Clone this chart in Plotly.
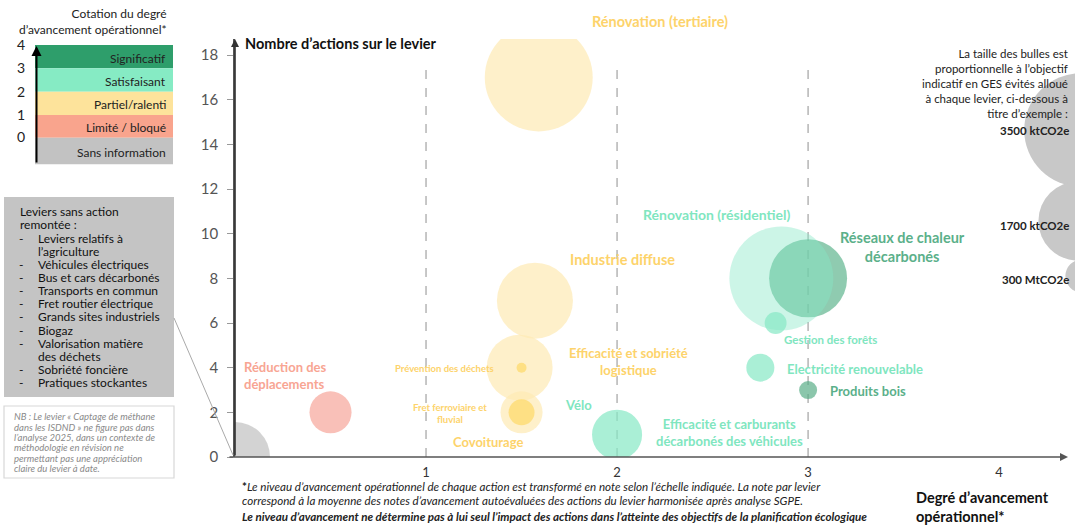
import plotly.graph_objects as go

# ---------------- data ----------------
leviers = [
    "Sans information", "Réduction des déplacements", "Rénovation (tertiaire)",
    "Industrie diffuse", "Efficacité et sobriété logistique", "Prévention des déchets",
    "Covoiturage", "Fret ferroviaire et fluvial",
    "Efficacité et carburants décarbonés des véhicules",
    "Réseaux de chaleur décarbonés", "Rénovation (résidentiel)", "Gestion des forêts",
    "Electricité renouvelable", "Produits bois",
]
avancement = [0.0, 0.5, 1.59, 1.57, 1.49, 1.5, 1.5, 1.5, 2.0, 3.0, 2.86, 2.83, 2.75, 3.0]
nb_actions = [0, 2, 17, 7, 4, 4, 2, 2, 1, 8, 8, 6, 4, 3]
ges_kt = [1330, 480, 3160, 1570, 1180, 27, 480, 183, 680, 1650, 2930, 130, 213, 88]
bubble_colors = [
    "#c0c0c0", "#f7a59a", "#fdeab4", "#fdeab4", "#fdeab4", "#fdd867", "#fdeab4",
    "#fdd867", "#86e8c5", "#5fb58f", "rgba(134,232,197,0.6)", "#86e8c5", "#86e8c5",
    "#5aae88",
]

legend_values = [3500, 1700, 300]
legend_labels = ["3500 ktCO2e", "1700 ktCO2e", "300 MtCO2e"]

cotation_levels = ["Significatif", "Satisfaisant", "Partiel/ralenti", "Limité / bloqué", "Sans information"]
cotation_colors = ["#2e9e6b", "#86ebc4", "#fde39b", "#f9a48d", "#c2c2c2"]
cotation_numbers = ["4", "3", "2", "1", "0"]

leviers_sans_action = [
    "Leviers relatifs à|l’agriculture", "Véhicules électriques", "Bus et cars décarbonés",
    "Transports en commun", "Fret routier électrique", "Grands sites industriels", "Biogaz",
    "Valorisation matière|des déchets", "Sobriété foncière", "Pratiques stockantes",
]

nb_lines = [
    "NB : Le levier « Captage de méthane", "dans les ISDND » ne figure pas dans",
    "l’analyse 2025, dans un contexte de", "méthodologie en révision ne",
    "permettant pas une appréciation", "claire du levier à date.",
]

x_ticks = [1, 2, 3, 4]
y_ticks = [0, 2, 4, 6, 8, 10, 12, 14, 16, 18]

# ---------------- geometry helpers ----------------
W_FIG, H_FIG = 1075, 526
L, T, PW, PH = 235, 39, 831, 418
X_MAX, Y_MAX = 4.35, 18.72
SIZEREF = 0.5425
FONT = "Lato, 'Open Sans', sans-serif"


def fx(px):
    return (px - L) / PW


def fy(py):
    return (T + PH - py) / PH


def bubble_radius_px(v):
    # same rule plotly uses for sizemode='area'
    return (v / (2 * SIZEREF)) ** 0.5


fig = go.Figure()

# bubbles
fig.add_trace(go.Scatter(
    x=avancement, y=nb_actions, mode="markers", text=leviers,
    marker=dict(size=ges_kt, sizemode="area", sizeref=SIZEREF, color=bubble_colors,
                line=dict(width=0)),
    hoverinfo="text", showlegend=False,
))

shapes = []
annotations = []

# size legend bubbles (right edge, outside plot area)
for v, (cx, cy) in zip(legend_values, [(1081, 130), (1078, 221), (1082, 276)]):
    r = bubble_radius_px(v)
    shapes.append(dict(type="circle", xref="paper", yref="paper",
                       x0=fx(cx - r), x1=fx(cx + r), y0=fy(cy + r), y1=fy(cy - r),
                       fillcolor="#c8c8c8", line=dict(width=0)))

# dashed verticals
for xv in [1, 2, 3]:
    shapes.append(dict(type="line", xref="x", yref="y", x0=xv, x1=xv, y0=0, y1=17.7,
                       line=dict(color="#b5b5b5", width=1.5, dash="dash"), layer="below"))

# axes arrows
annotations.append(dict(xref="x", yref="y", axref="x", ayref="y", x=0, y=Y_MAX, ax=0, ay=0,
                        showarrow=True, arrowhead=2, arrowsize=1, arrowwidth=1.6,
                        arrowcolor="#333", text=""))
annotations.append(dict(xref="paper", yref="paper", axref="pixel", ayref="pixel",
                        x=fx(1068), y=fy(457), ax=-840, ay=0,
                        showarrow=True, arrowhead=2, arrowsize=1, arrowwidth=1.6,
                        arrowcolor="#555", text=""))

# axis titles
annotations.append(dict(xref="paper", yref="paper", x=fx(243), y=fy(43), xanchor="left",
                        yanchor="middle", showarrow=False,
                        text="<b>Nombre d’actions sur le levier</b>",
                        font=dict(family=FONT, size=14.5, color="#111")))
annotations.append(dict(xref="paper", yref="paper", x=fx(914), y=fy(507), xanchor="left",
                        yanchor="middle", showarrow=False, align="left",
                        text="<b>Degré d’avancement<br>opérationnel*</b>",
                        font=dict(family=FONT, size=14.5, color="#111")))

# bubble labels: (text, px, py, color, size, anchor)
YEL, RED, GRN, DGR = "#fdd36b", "#f8a593", "#80e6bf", "#5bb08a"
labels = [
    ("Rénovation (tertiaire)", 660, 21, YEL, 14.5, "center"),
    ("Industrie diffuse", 622, 259, YEL, 14.5, "center"),
    ("Efficacité et sobriété<br>logistique", 628, 361, YEL, 13, "center"),
    ("Prévention des déchets", 444, 368, YEL, 9.5, "center"),
    ("Fret ferroviaire et<br>fluvial", 450, 413, YEL, 9.5, "center"),
    ("Covoiturage", 488, 442, YEL, 13, "center"),
    ("Réduction des<br>déplacements", 242, 375, RED, 13, "left"),
    ("Vélo", 578, 405, GRN, 13, "center"),
    ("Efficacité et carburants<br>décarbonés des véhicules", 729, 432, GRN, 13, "center"),
    ("Rénovation (résidentiel)", 716, 214, GRN, 14, "center"),
    ("Réseaux de chaleur<br>décarbonés", 902, 247, DGR, 14.5, "center"),
    ("Gestion des forêts", 830, 339, GRN, 11.5, "center"),
    ("Electricité renouvelable", 855, 369, GRN, 13, "center"),
    ("Produits bois", 868, 391, DGR, 13, "center"),
]
for txt, px, py, col, sz, anc in labels:
    annotations.append(dict(xref="paper", yref="paper", x=fx(px), y=fy(py), xanchor=anc,
                            yanchor="middle", showarrow=False, align=anc,
                            text="<b>" + txt + "</b>", font=dict(family=FONT, size=sz, color=col)))

# right-hand size legend text
annotations.append(dict(xref="paper", yref="paper", x=fx(1070), y=fy(83), xanchor="right",
                        yanchor="middle", showarrow=False, align="right",
                        text="La taille des bulles est<br>proportionnelle à l’objectif<br>"
                             "indicatif en GES évités alloué<br>à chaque levier, ci-dessous à<br>"
                             "titre d’exemple :",
                        font=dict(family=FONT, size=11.5, color="#222")))
for lab, py in zip(legend_labels, [130, 226, 279]):
    annotations.append(dict(xref="paper", yref="paper", x=fx(1071), y=fy(py), xanchor="right",
                            yanchor="middle", showarrow=False, text="<b>" + lab + "</b>",
                            font=dict(family=FONT, size=11.5, color="#222")))

# cotation legend (top-left)
annotations.append(dict(xref="paper", yref="paper", x=fx(169), y=fy(22), xanchor="right",
                        yanchor="middle", showarrow=False, align="right",
                        text="Cotation du degré<br>d’avancement opérationnel*",
                        font=dict(family=FONT, size=12, color="#222")))
band_edges = [45, 68.3, 91.7, 115, 137.7, 164.3]
for i, (lvl, col) in enumerate(zip(cotation_levels, cotation_colors)):
    y0, y1 = band_edges[i], band_edges[i + 1]
    shapes.append(dict(type="rect", xref="paper", yref="paper", x0=fx(35), x1=fx(173),
                       y0=fy(y1), y1=fy(y0), fillcolor=col, line=dict(width=0)))
    annotations.append(dict(xref="paper", yref="paper", x=fx(168), y=fy((y0 + y1) / 2 + 1.5),
                            xanchor="right", yanchor="middle", showarrow=False, text=lvl,
                            font=dict(family=FONT, size=12, color="#222")))
for num, py in zip(cotation_numbers, [45, 67.7, 91, 114, 136.7]):
    annotations.append(dict(xref="paper", yref="paper", x=fx(21), y=fy(py), xanchor="center",
                            yanchor="middle", showarrow=False, text=num,
                            font=dict(family=FONT, size=14, color="#222")))
annotations.append(dict(xref="paper", yref="paper", axref="pixel", ayref="pixel",
                        x=fx(36.5), y=fy(46), ax=0, ay=118, showarrow=True, arrowhead=2,
                        arrowsize=1, arrowwidth=2, arrowcolor="#000", text=""))

# grey box: leviers sans action
shapes.append(dict(type="rect", xref="paper", yref="paper", x0=fx(4), x1=fx(174),
                   y0=fy(397), y1=fy(197), fillcolor="#c4c4c4", line=dict(width=0)))
lines = [("Leviers sans action", 18, False), ("remontée :", 18, False)]
for item in leviers_sans_action:
    parts = item.split("|")
    lines.append((parts[0], 36, True))
    for p in parts[1:]:
        lines.append((p, 36, False))
for i, (txt, px, dash) in enumerate(lines):
    py = 211.7 + 13.15 * i
    annotations.append(dict(xref="paper", yref="paper", x=fx(px), y=fy(py), xanchor="left",
                            yanchor="middle", showarrow=False, text=txt,
                            font=dict(family=FONT, size=12, color="#111")))
    if dash:
        annotations.append(dict(xref="paper", yref="paper", x=fx(21), y=fy(py), xanchor="center",
                                yanchor="middle", showarrow=False, text="-",
                                font=dict(family=FONT, size=12, color="#111")))
shapes.append(dict(type="line", xref="paper", yref="paper", x0=fx(174), y0=fy(318),
                   x1=fx(233), y1=fy(455), line=dict(color="#aaaaaa", width=1)))

# NB box
shapes.append(dict(type="rect", xref="paper", yref="paper", x0=fx(4), x1=fx(174),
                   y0=fy(478), y1=fy(406), fillcolor="white",
                   line=dict(color="#d8d8d8", width=1.2)))
for i, txt in enumerate(nb_lines):
    annotations.append(dict(xref="paper", yref="paper", x=fx(12), y=fy(416.7 + 10.4 * i),
                            xanchor="left", yanchor="middle", showarrow=False,
                            text="<i>" + txt + "</i>",
                            font=dict(family=FONT, size=9.5, color="#8a8a8a")))

# footnote
foot = [
    ("<b>*</b><i>Le niveau d’avancement opérationnel de chaque action est transformé en note selon l’échelle indiquée. La note par levier</i>", 486),
    ("<i>correspond à la moyenne des notes d’avancement autoévaluées des actions du levier harmonisée après analyse SGPE.</i>", 501),
    ("<b><i>Le niveau d’avancement ne détermine pas à lui seul l’impact des actions dans l’atteinte des objectifs de la planification écologique</i></b>", 516),
]
for txt, py in foot:
    annotations.append(dict(xref="paper", yref="paper", x=fx(240), y=fy(py), xanchor="left",
                            yanchor="middle", showarrow=False, text=txt,
                            font=dict(family=FONT, size=11.6, color="#222")))

fig.update_layout(
    width=W_FIG, height=H_FIG,
    margin=dict(l=L, r=W_FIG - L - PW, t=T, b=H_FIG - T - PH, pad=0),
    paper_bgcolor="white", plot_bgcolor="white",
    showlegend=False,
    xaxis=dict(range=[0, X_MAX], tickvals=x_ticks, ticktext=[str(v) for v in x_ticks],
               showgrid=False, zeroline=False, showline=False, ticks="", ticklabelstandoff=6,
               tickfont=dict(family=FONT, size=13, color="#333")),
    yaxis=dict(range=[0, Y_MAX], tickvals=y_ticks, ticktext=[str(v) for v in y_ticks],
               showgrid=False, zeroline=False, showline=True, linecolor="#555", linewidth=1.5,
               ticks="outside", ticklen=6, tickcolor="#999", ticklabelstandoff=6,
               tickfont=dict(family=FONT, size=15, color="#555")),
    shapes=shapes, annotations=annotations,
    font=dict(family=FONT),
)

fig.write_html("out.html", config={"displayModeBar": False},
               post_script="document.body.style.margin='0';document.body.style.overflow='hidden';")
